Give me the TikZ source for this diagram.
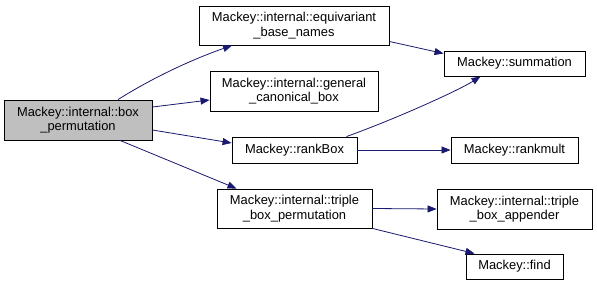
\documentclass[tikz,border=0pt]{standalone}
\usepackage{fontspec}
\setmainfont{Liberation Sans}
\usetikzlibrary{arrows.meta}
\definecolor{edgeblue}{HTML}{191970}
\definecolor{rootgray}{HTML}{BFBFBF}
\begin{document}
\begin{tikzpicture}[x=1pt,y=-1pt,
  fn/.style={draw=black,line width=0.9pt,fill=white,rectangle,inner sep=0pt,
    align=center,font=\fontsize{12.9}{14.5}\selectfont},
  rootfn/.style={fn,fill=rootgray},
  call/.style={draw=edgeblue,line width=0.8pt,
    -{Triangle[length=9pt,width=7pt,fill=edgeblue]}}]
\useasboundingbox (0,0) rectangle (597,286);
\fill[white] (0,0) rectangle (597,286);

% functions
\node[rootfn,minimum width=148pt,minimum height=40pt] (root) at (78,120)
  {Mackey::internal::box\\\_permutation};
\node[fn,minimum width=190pt,minimum height=39pt] (equiv) at (294,25.5)
  {Mackey::internal::equivariant\\\_base\_names};
\node[fn,minimum width=168pt,minimum height=40pt] (general) at (294,91)
  {Mackey::internal::general\\\_canonical\_box};
\node[fn,minimum width=125pt,minimum height=26pt] (rankbox) at (294.5,150)
  {Mackey::rankBox};
\node[fn,minimum width=155pt,minimum height=39pt] (triple) at (294.5,208.5)
  {Mackey::internal::triple\\\_box\_permutation};
\node[fn,minimum width=141pt,minimum height=25pt] (summation) at (514.5,63.5)
  {Mackey::summation};
\node[fn,minimum width=127pt,minimum height=26pt] (rankmult) at (514.5,150)
  {Mackey::rankmult};
\node[fn,minimum width=155pt,minimum height=40pt] (appender) at (514.5,209)
  {Mackey::internal::triple\\\_box\_appender};
\node[fn,minimum width=97pt,minimum height=25pt] (find) at (514.5,266.5)
  {Mackey::find};

% calls
\draw[call] ([xshift=40pt]root.north) .. controls +(35,-22) and +(-40,14) .. ([xshift=-62pt]equiv.south);
\draw[call] ([yshift=13pt]root.east) -- ([yshift=-9pt]general.west);
\draw[call] ([yshift=-10pt]root.east) -- ([yshift=7pt]rankbox.west);
\draw[call] ([xshift=42pt]root.south) -- ([xshift=-58pt]triple.north);
\draw[call] ([yshift=-16pt]equiv.east) -- ([yshift=10pt]summation.west);
\draw[call] ([xshift=52pt]rankbox.north) .. controls +(50,-18) and +(-22,14) .. ([xshift=-34pt]summation.south);
\draw[call] (rankbox.east) -- (rankmult.west);
\draw[call] (triple.east) -- (appender.west);
\draw[call] (triple.south east) -- ([xshift=-40pt]find.north);
\end{tikzpicture}
\end{document}
